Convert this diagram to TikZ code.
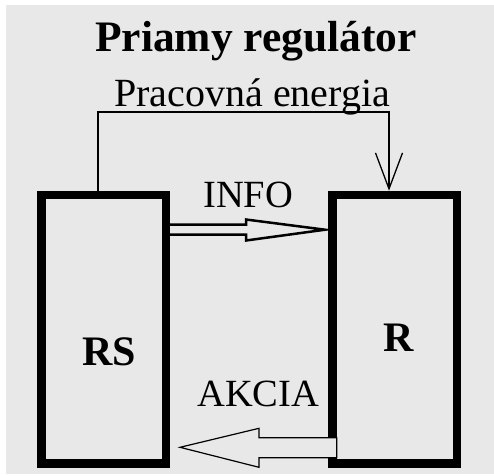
\documentclass[tikz,border=0pt]{standalone}
\usepackage{fontspec}
\setmainfont{Liberation Serif}
\usetikzlibrary{arrows.meta,calc}
\definecolor{bg}{HTML}{E8E8E8}
\tikzset{
  blockbox/.style={draw=black, line width=8.5pt, minimum width=124.5pt, minimum height=268.7pt, inner sep=0pt},
  blocklbl/.style={font=\fontsize{42}{48}\selectfont\bfseries, inner sep=0pt, anchor=base west},
  txt/.style={font=\fontsize{38.5}{44}\selectfont, inner sep=0pt, anchor=base west},
  ttl/.style={font=\fontsize{43.5}{48}\selectfont\bfseries, inner sep=0pt, anchor=base west},
  energy/.style={draw=black, line width=1.3pt, -{Straight Barb[length=36pt,width=27pt,line width=1.3pt]}},
  infoarrow/.style={draw=black, fill=bg, line width=2.5pt, line join=miter},
  akciaarrow/.style={draw=black, fill=bg, line width=1.2pt, line join=miter}
}
\begin{document}
\begin{tikzpicture}[x=1pt,y=1pt]
\useasboundingbox (0,0) rectangle (494,475);
\fill[white] (0,0) rectangle (494,475);
\fill[bg] (6,0.7) rectangle (494,470);
% title
\node[ttl] (title) at (95,423) {Priamy regulátor};
\node[txt, font=\fontsize{40}{46}\selectfont] (energytxt) at (114,369) {Pracovná energia};
% boxes
\node[blockbox] (RS) at (103.5,145.65) {};
\node[blockbox] (R) at (394.5,145.65) {};
\node[blocklbl] (RSl) at (82,109.3) {RS};
\node[blocklbl] (Rl) at (383,123.3) {R};
% energy connector
\coordinate (e1) at ($(RS.north)+(-5.5,0)$);
\coordinate (e2) at ($(R.north)+(-5.5,0)$);
\draw[energy] (e1) -- (e1 |- 0,363) -- (e2 |- 0,363) -- (e2);
% INFO arrow
\node[txt] (info) at (203,268) {INFO};
\coordinate (is) at (RS.east |- 0,245.3);
\coordinate (it) at (R.west |- 0,245.3);
\draw[infoarrow] ($(is)+(0,5)$) -- (246,250.3) -- (246,255.5) -- ($(it)+(-3,0)$)
  -- (246,234.5) -- (246,240.3) -- ($(is)+(0,-5)$);
% AKCIA arrow
\node[txt] (akcia) at (197,69) {AKCIA};
\coordinate (as) at ($(R.west)+(8.75,0)$);
\coordinate (at) at ($(RS.east)+(10,0)$);
\draw[akciaarrow] (as |- 0,37.3) -- (259,37.3) -- (259,46.7) -- (at |- 0,27.7)
  -- (259,7.7) -- (259,17.3) -- (as |- 0,17.3) -- cycle;
\end{tikzpicture}
\end{document}
